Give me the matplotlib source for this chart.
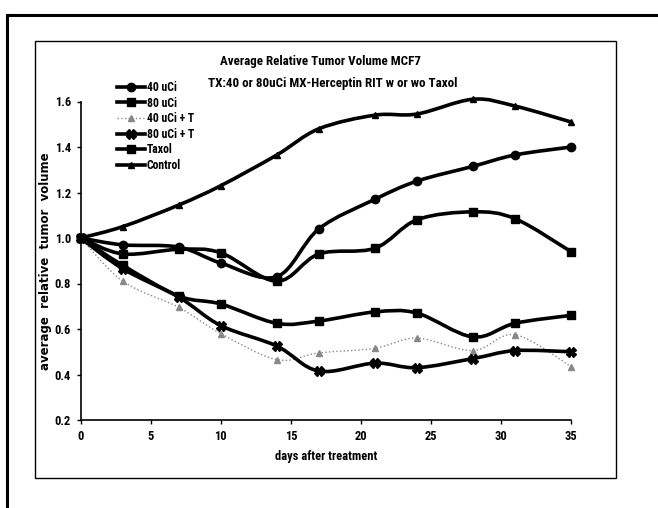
import numpy as np
import matplotlib.pyplot as plt
from matplotlib import font_manager
from matplotlib.path import Path
from matplotlib.patches import PathPatch, Rectangle
from matplotlib.lines import Line2D

# ------------------ Data ------------------
days = [0, 3, 7, 10, 14, 17, 21, 24, 28, 31, 35]

uci40 = [1.0, 0.97, 0.96, 0.89, 0.83, 1.04, 1.17, 1.25, 1.315, 1.365, 1.40]
uci80 = [1.0, 0.93, 0.95, 0.935, 0.81, 0.93, 0.955, 1.08, 1.115, 1.085, 0.94]
uci40_t = [1.0, 0.81, 0.695, 0.58, 0.465, 0.495, 0.515, 0.56, 0.505, 0.575, 0.435]
uci80_t = [1.0, 0.865, 0.74, 0.615, 0.525, 0.415, 0.45, 0.43, 0.47, 0.505, 0.50]
taxol = [1.0, 0.88, 0.745, 0.71, 0.625, 0.635, 0.675, 0.67, 0.565, 0.625, 0.66]
control = [1.0, 1.05, 1.145, 1.23, 1.365, 1.48, 1.54, 1.545, 1.61, 1.58, 1.51]

labels = ["40 uCi", "80 uCi", "40 uCi + T", "80 uCi + T", "Taxol", "Control"]

title1 = "Average Relative Tumor Volume MCF7"
title2 = "TX:40 or 80uCi MX-Herceptin RIT w or wo Taxol"

# the chart uses a narrow bold face; take one if installed, else shrink
have = {f.name for f in font_manager.fontManager.ttflist}
if "Liberation Sans Narrow" in have:
    narrow, k = "Liberation Sans Narrow", 1.0
elif "Roboto Condensed" in have:
    narrow, k = "Roboto Condensed", 1.0
else:
    narrow, k = "Liberation Sans", 0.86


# smoothed line like Excel (bezier through the points)
def smooth_path(x, y):
    pts = np.column_stack([x, y]).astype(float)
    n = len(pts)
    verts = [pts[0]]
    codes = [Path.MOVETO]
    for i in range(n - 1):
        p0 = pts[max(i - 1, 0)]
        p1 = pts[i]
        p2 = pts[i + 1]
        p3 = pts[min(i + 2, n - 1)]
        verts += [p1 + (p2 - p0) / 6, p2 - (p3 - p1) / 6, p2]
        codes += [Path.CURVE4] * 3
    return Path(verts, codes)


fig = plt.figure(figsize=(6.58, 5.08), dpi=100)
W, H = 658, 508

# outer scan border + inner chart frame
fig.add_artist(Line2D([7 / W, 1], [1 - 15 / H, 1 - 15 / H], color="black", lw=2.2))
fig.add_artist(Line2D([7 / W, 7 / W], [0, 1 - 15 / H], color="black", lw=2.2))
fig.add_artist(Rectangle((35 / W, 1 - 478 / H), (616 - 35) / W, (478 - 41) / H,
                         fill=False, edgecolor="black", lw=1.0))

ax = fig.add_axes([80.7 / W, 1 - 420 / H, (571 - 80.7) / W, (420 - 101.5) / H])

series = [
    (uci40, dict(marker="o", ms=6, color="black"), 2.6, "-"),
    (uci80, dict(marker="s", ms=6, color="black"), 2.6, "-"),
    (uci40_t, dict(marker="^", ms=4, color="#888888"), 1.0, ":"),
    (uci80_t, dict(marker="X", ms=7, color="black"), 2.6, "-"),
    (taxol, dict(marker="s", ms=6, color="black"), 2.6, "-"),
    (control, dict(marker="^", ms=5, color="black"), 2.6, "-"),
]

handles = []
for vals, mk, lw, ls in series:
    col = mk["color"]
    ax.add_patch(PathPatch(smooth_path(days, vals), fill=False, edgecolor=col,
                           lw=lw, linestyle=ls, zorder=2, clip_on=False))
    ax.plot(days, vals, linestyle="none", marker=mk["marker"], ms=mk["ms"],
            color=col, zorder=3, clip_on=False)
    handles.append(Line2D([], [], color=col, lw=lw, linestyle=ls,
                          marker=mk["marker"], ms=mk["ms"]))

ax.set_xlim(0, 35)
ax.set_ylim(0.2, 1.6)
ax.set_xticks(range(0, 36, 5))
ax.set_yticks(np.arange(0.2, 1.61, 0.2))
ax.set_yticklabels([f"{v:.1f}" for v in np.arange(0.2, 1.61, 0.2)])
ax.spines["top"].set_visible(False)
ax.spines["right"].set_visible(False)
ax.spines["left"].set_linewidth(1.2)
ax.spines["bottom"].set_linewidth(1.2)
ax.tick_params(length=3, width=1, labelsize=9 * k, pad=4)
for t in ax.get_xticklabels() + ax.get_yticklabels():
    t.set_family(narrow)
    t.set_fontweight("bold")

ax.set_xlabel("days after treatment", fontsize=9 * k, fontweight="bold",
              family=narrow, labelpad=5)
ax.set_ylabel("average  relative  tumor  volume", fontsize=8.5,
              fontweight="bold", family="DejaVu Sans", labelpad=2)

fig.text(220 / W, 1 - 62 / H, title1, ha="left", va="center", fontsize=9.4 * k,
         fontweight="bold", family=narrow)
fig.text(208 / W, 1 - 84 / H, title2, ha="left", va="center", fontsize=9.4 * k,
         fontweight="bold", family=narrow)

leg = fig.legend(handles, labels, loc="upper left",
                 bbox_to_anchor=(117 / W, 1 - 81 / H), frameon=False,
                 fontsize=8.5 * k, handlelength=2.4, handletextpad=0.1,
                 labelspacing=0.22, borderpad=0, borderaxespad=0)
for t in leg.get_texts():
    t.set_family(narrow)
    t.set_fontweight("bold")

fig.savefig("out.png", dpi=100)
